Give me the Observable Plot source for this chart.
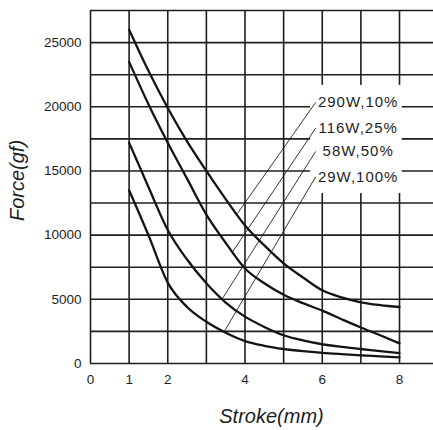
<!DOCTYPE html>
<html><head><meta charset="utf-8">
<script src="https://cdn.jsdelivr.net/npm/d3@7"></script>
<script src="https://cdn.jsdelivr.net/npm/@observablehq/plot@0.6"></script>
<style>
html,body{margin:0;padding:0;background:#fff;}
</style>
</head><body><div id="chart"></div>
<script>
// Stroke positions (mm) where force values were read
const stroke = [1, 1.5, 2, 2.5, 3, 3.5, 4, 4.5, 5, 5.5, 6, 6.5, 7, 7.5, 8];
const series = ["290W,10%", "116W,25%", "58W,50%", "29W,100%"];
const force290W = [26000, 22800, 19900, 17300, 15000, 12800, 10750, 9200, 7800, 6700, 5700, 5150, 4770, 4550, 4400];
const force116W = [23500, 20200, 17200, 14400, 11600, 9400, 7400, 6250, 5350, 4700, 4120, 3450, 2800, 2200, 1570];
const force58W  = [17200, 13750, 10400, 8100, 6250, 4750, 3650, 2850, 2200, 1800, 1500, 1300, 1130, 970, 800];
const force29W  = [13500, 10000, 6300, 4400, 3250, 2400, 1750, 1380, 1130, 960, 830, 730, 640, 560, 480];

const xTicks = [0, 1, 2, 4, 6, 8];
const yTicks = [0, 5000, 10000, 15000, 20000, 25000];
const xGrid = [0, 1, 2, 3, 4, 5, 6, 7, 8];
const yGrid = [0, 2500, 5000, 7500, 10000, 12500, 15000, 17500, 20000, 22500, 25000, 27500];

// label annotations (centre of each label) and where its leader line meets its curve
const labelX = 6.93;
const labelY = [20340, 18340, 16520, 14550];
const leaderStartX = 5.83;
const leaderEndX = [3.8, 3.67, 3.41, 3.45];
const leaderEndY = [11670, 8660, 5030, 2430];

const allForces = [force290W, force116W, force58W, force29W];
const rows = [];
series.forEach((s, i) => stroke.forEach((x, j) => rows.push({series: s, stroke: x, force: allForces[i][j]})));
const labels = series.map((s, i) => ({text: s, x: labelX, y: labelY[i], x2: leaderEndX[i], y2: leaderEndY[i]}));
const box = [{x1: leaderStartX - 0.13, x2: labelX + 1.14, y1: d3.min(labelY) - 1310, y2: d3.max(labelY) + 1330}];

const ink = "#1e1e1e";
const chart = Plot.plot({
  width: 433, height: 430,
  marginLeft: 90, marginTop: 10, marginBottom: 67, marginRight: 0,
  style: {fontFamily: "'Liberation Sans', Arial, sans-serif", fontSize: "13.5px", color: ink, background: "#fff"},
  x: {domain: [0, 8.88], ticks: xTicks, tickSize: 0, tickPadding: 11, label: null, tickFormat: d => String(d)},
  y: {domain: [0, 27500], ticks: yTicks, tickSize: 0, tickPadding: 9, label: null, tickFormat: d => String(d)},
  marks: [
    Plot.ruleY(yGrid, {stroke: ink, strokeWidth: 1.6}),
    Plot.ruleX(xGrid, {y1: 0, y2: 27500, stroke: ink, strokeWidth: 1.6}),
    Plot.rect(box, {x1: "x1", x2: "x2", y1: "y1", y2: "y2", fill: "white"}),
    Plot.link(labels, {x1: () => leaderStartX, y1: "y", x2: "x2", y2: "y2", stroke: ink, strokeWidth: 0.9}),
    Plot.line(rows, {x: "stroke", y: "force", z: "series", stroke: "#141414", strokeWidth: 2.3, curve: "monotone-x"}),
    Plot.text(labels, {x: "x", y: "y", text: "text", fontSize: 15, fill: ink, textAnchor: "middle", lineAnchor: "middle"}),
    Plot.text(["Stroke(mm)"], {frameAnchor: "bottom", dx: 9.5, dy: 53.5, textAnchor: "middle", lineAnchor: "middle", fontSize: 20, fontStyle: "italic", fill: ink}),
    Plot.text(["Force(gf)"], {frameAnchor: "left", dx: -73, dy: -6.5, rotate: -90, textAnchor: "middle", lineAnchor: "middle", fontSize: 20, fontStyle: "italic", fill: ink})
  ]
});
chart.querySelectorAll("text").forEach(t => {
  if (series.includes(t.textContent)) t.setAttribute("letter-spacing", "1px");
});
document.getElementById("chart").appendChild(chart);
</script>
</body></html>
